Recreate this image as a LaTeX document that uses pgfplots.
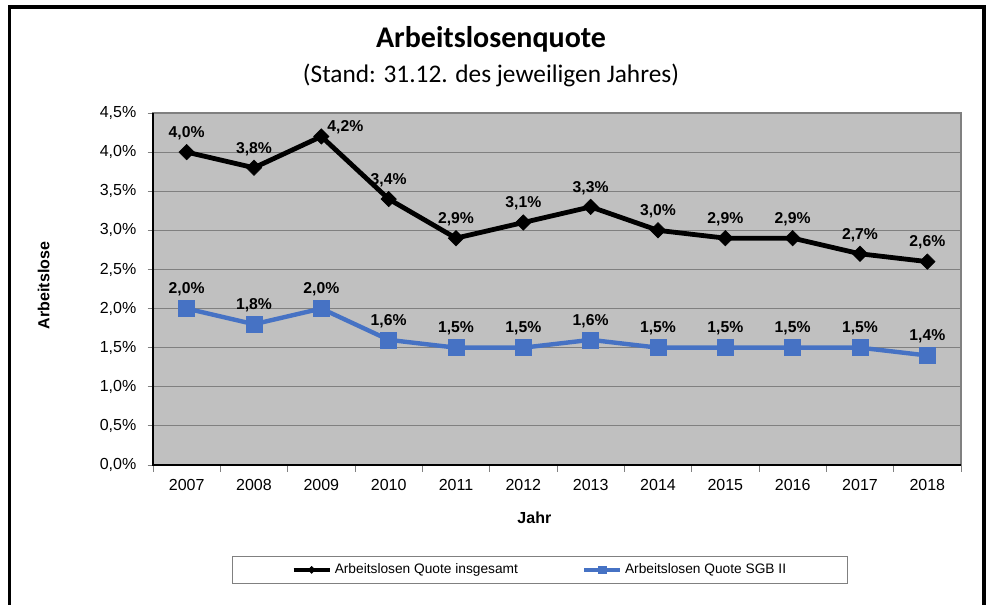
\documentclass[border=0pt]{standalone}
\usepackage{fontspec}
\setmainfont{Liberation Sans}
\newfontfamily\calibri{Carlito}
\usepackage{pgfplots}
\usepackage{pgfplotstable}
\pgfplotsset{compat=1.18}

\definecolor{plotbg}{RGB}{192,192,192}
\definecolor{gridgray}{RGB}{128,128,128}
\definecolor{sgbblue}{RGB}{70,114,196}

% x = year index, y = quota in %, dx/dy = label shift in pt
\pgfplotstableread{
x y dx dy
0 4.0 0 0
1 3.8 0 0
2 4.2 18 -7
3 3.4 0 0
4 2.9 0 0
5 3.1 0 0
6 3.3 0 0
7 3.0 0 0
8 2.9 0 0
9 2.9 0 0
10 2.7 0 0
11 2.6 0 0
}\insgesamt

\pgfplotstableread{
x y
0 2.0
1 1.8
2 2.0
3 1.6
4 1.5
5 1.5
6 1.6
7 1.5
8 1.5
9 1.5
10 1.5
11 1.4
}\sgb

\begin{document}
\begin{tikzpicture}[x=0.75pt,y=0.75pt]
  \useasboundingbox (-153,-139) rectangle (838,465);
  \begin{axis}[
    at={(0,0)}, anchor=south west,
    scale only axis,
    width=606pt, height=264pt,
    axis background/.style={fill=plotbg},
    axis line style={gridgray, line width=0.8pt},
    xmin=-0.5, xmax=11.5,
    ymin=0, ymax=4.5,
    tick pos=left,
    xtick={0,...,11},
    xticklabels={2007,2008,2009,2010,2011,2012,2013,2014,2015,2016,2017,2018},
    minor xtick={-0.5,0.5,...,11.5},
    x tick style={draw=none},
    minor x tick style={draw=gridgray, line width=0.6pt},
    minor tick length=5pt,
    ytick={0,0.5,...,4.5},
    y tick style={draw=gridgray, line width=0.6pt},
    major tick length=4pt,
    tick align=outside,
    ymajorgrids,
    major grid style={gridgray, line width=0.8pt},
    yticklabel={\pgfmathprintnumber[fixed,fixed zerofill,precision=1,use comma]{\tick}\%},
    /pgf/number format/assume math mode=true,
    ticklabel style={font=\fontsize{12}{14}\selectfont},
    xticklabel style={yshift=-3pt},
    yticklabel style={xshift=-5pt},
    xlabel={\textbf{Jahr}},
    ylabel={\textbf{Arbeitslose}},
    label style={font=\fontsize{12}{14}\selectfont},
    xlabel style={at={(axis description cs:0.472,0)}, anchor=north, yshift=-32pt},
    ylabel style={at={(axis description cs:0,0.51)}, anchor=south, yshift=74pt},
    nodes near coords={\pgfmathprintnumber[fixed,fixed zerofill,precision=1,use comma]{\pgfplotspointmeta}\%},
    every node near coord/.style={font=\bfseries\fontsize{11.8}{13}\selectfont, black, anchor=south, inner sep=0pt, yshift=9pt},
    clip=false,
    legend columns=2,
    legend style={at={(axis description cs:0.479,-0.298)}, anchor=center,
      draw=gridgray, line width=0.6pt, inner xsep=44pt, inner ysep=4pt,
      font=\fontsize{10.3}{12}\selectfont,
      /tikz/every even column/.append style={column sep=46pt}},
    legend image code/.code={
      \draw[#1, mark repeat=2, mark phase=2, /tikz/every mark/.append style={scale=0.45}]
        plot coordinates {(0pt,0pt) (13.5pt,0pt) (27pt,0pt)};},
    after end axis/.code={
      \draw[black, line width=1.2pt] (rel axis cs:0,1) -- (rel axis cs:0,0) -- (rel axis cs:1,0);
    },
  ]
    \addplot[black, line width=3.6pt, mark=square*, mark size=4.1pt,
      mark options={solid, rotate=45, line width=0.4pt},
      visualization depends on={\thisrow{dx} \as \dx},
      visualization depends on={\thisrow{dy} \as \dy},
      every node near coord/.append style={xshift=\dx pt, yshift=\dy pt}]
      table[x=x, y=y] {\insgesamt};
    \addlegendentry{Arbeitslosen Quote insgesamt}
    \addplot[sgbblue, line width=3.3pt, mark=square*, mark size=6pt,
      mark options={solid, line width=0.4pt}]
      table[x=x, y=y] {\sgb};
    \addlegendentry{Arbeitslosen Quote SGB II}
  \end{axis}
  % outer chart frame (bottom edge lies below the cut)
  \draw[black, line width=2.4pt] (-143.5,-150) -- (-143.5,458) -- (831,458) -- (831,-150);
  % title
  \node[font=\calibri\bfseries\fontsize{22.5}{26}\selectfont, anchor=base] at (338,417) {Arbeitslosenquote};
  \node[font=\calibri\fontsize{19}{22}\selectfont, anchor=base] at (338,382) {(Stand: 31.12. des jeweiligen Jahres)};
\end{tikzpicture}
\end{document}
